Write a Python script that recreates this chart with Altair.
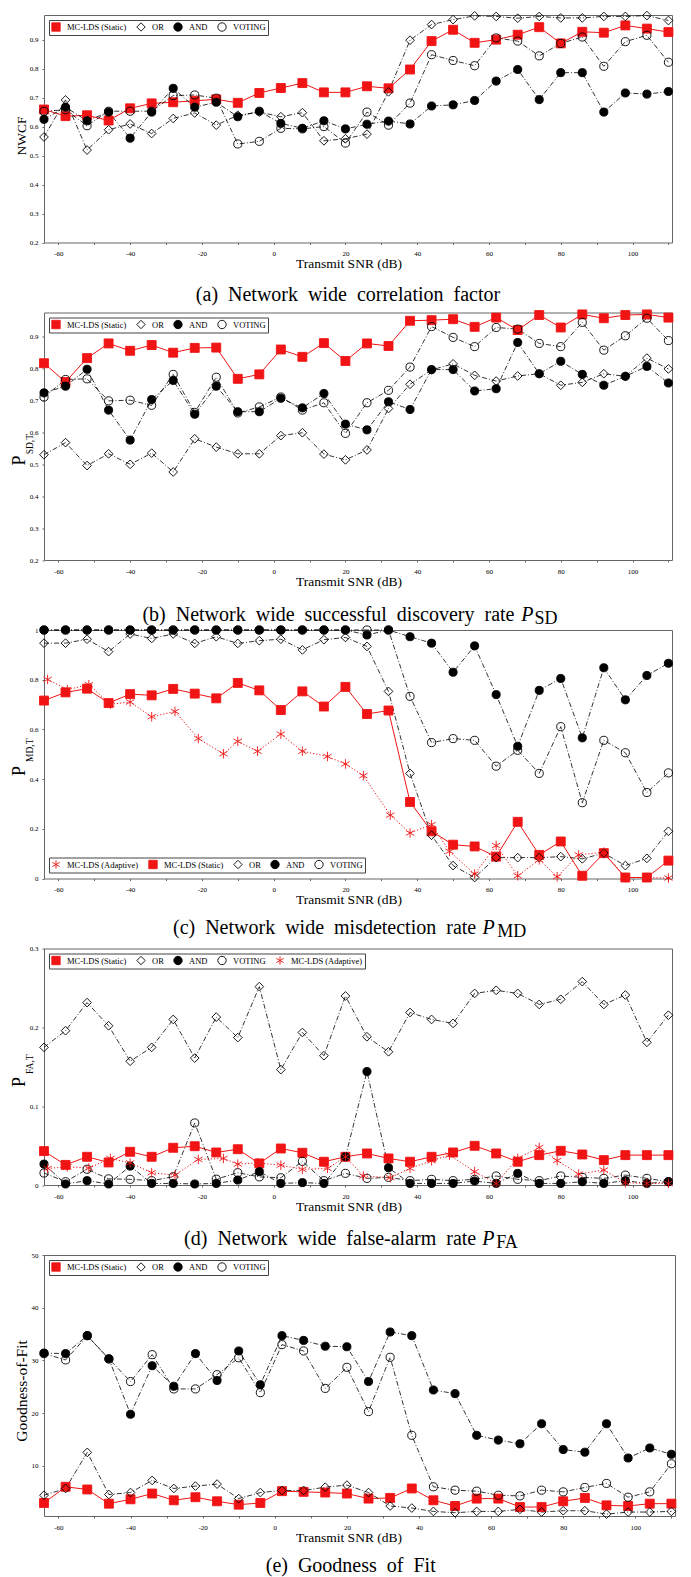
import altair as alt
import pandas as pd

FONT = "Liberation Serif"
RED = "#f01414"
S, O, A, V, AD = "MC-LDS (Static)", "OR", "AND", "VOTING", "MC-LDS (Adaptive)"

# ---------------- data ----------------
snr = [-64, -58, -52, -46, -40, -34, -28, -22, -16, -10, -4, 2, 8, 14, 20,
       26, 32, 38, 44, 50, 56, 62, 68, 74, 80, 86, 92, 98, 104, 110]
snr_adaptive = [-63, -57.5, -51.5, -45.5, -40, -34, -27.5, -21, -14, -10, -4.5, 2, 8, 15, 20,
                25, 32.5, 38, 44, 49, 56, 62, 68, 74, 79, 85, 92, 98, 104, 110]

x_ticks = [-60, -50, -40, -30, -20, -10, 0, 10, 20, 30, 40, 50, 60, 70, 80, 90, 100, 110]

# (a) NWCF
nwcf_static = [0.659, 0.636, 0.639, 0.621, 0.663, 0.680, 0.684, 0.689, 0.694, 0.682, 0.716, 0.733, 0.750, 0.718, 0.718,
               0.739, 0.732, 0.797, 0.895, 0.934, 0.889, 0.900, 0.917, 0.943, 0.887, 0.927, 0.924, 0.949, 0.938, 0.926]
nwcf_or = [0.564, 0.692, 0.519, 0.589, 0.609, 0.576, 0.628, 0.647, 0.605, 0.639, 0.650, 0.634, 0.648, 0.551, 0.558,
           0.574, 0.720, 0.898, 0.952, 0.969, 0.982, 0.980, 0.974, 0.980, 0.975, 0.975, 0.980, 0.980, 0.983, 0.966]
nwcf_and = [0.625, 0.667, 0.620, 0.650, 0.560, 0.650, 0.732, 0.667, 0.684, 0.634, 0.653, 0.611, 0.594, 0.620, 0.592,
            0.608, 0.619, 0.609, 0.671, 0.675, 0.690, 0.757, 0.797, 0.693, 0.786, 0.786, 0.650, 0.716, 0.712, 0.721]
nwcf_voting = [0.653, 0.658, 0.603, 0.653, 0.653, 0.653, 0.707, 0.709, 0.698, 0.540, 0.549, 0.594, 0.592, 0.600, 0.543,
               0.650, 0.605, 0.681, 0.848, 0.828, 0.810, 0.906, 0.895, 0.844, 0.887, 0.909, 0.808, 0.893, 0.915, 0.822]

# (b) P_SD
psd_static = [0.817, 0.758, 0.833, 0.879, 0.856, 0.874, 0.850, 0.865, 0.866, 0.768, 0.782, 0.860, 0.837, 0.880, 0.824,
              0.879, 0.871, 0.950, 0.952, 0.955, 0.931, 0.960, 0.921, 0.968, 0.929, 0.970, 0.958, 0.968, 0.970, 0.960]
psd_or = [0.530, 0.568, 0.496, 0.533, 0.500, 0.535, 0.476, 0.580, 0.554, 0.533, 0.533, 0.590, 0.599, 0.532, 0.514,
          0.545, 0.675, 0.751, 0.796, 0.815, 0.779, 0.761, 0.777, 0.784, 0.748, 0.757, 0.784, 0.776, 0.833, 0.799]
psd_and = [0.724, 0.745, 0.798, 0.670, 0.576, 0.703, 0.763, 0.657, 0.745, 0.665, 0.665, 0.707, 0.677, 0.722, 0.626,
           0.608, 0.696, 0.672, 0.797, 0.797, 0.730, 0.737, 0.882, 0.784, 0.823, 0.782, 0.748, 0.776, 0.807, 0.755]
psd_voting = [0.711, 0.766, 0.768, 0.699, 0.701, 0.685, 0.782, 0.663, 0.773, 0.661, 0.680, 0.711, 0.670, 0.693, 0.597,
              0.693, 0.732, 0.805, 0.932, 0.898, 0.869, 0.929, 0.924, 0.879, 0.869, 0.945, 0.858, 0.903, 0.958, 0.888]

# (c) P_MD
pmd_static = [0.716, 0.749, 0.764, 0.706, 0.742, 0.737, 0.763, 0.744, 0.725, 0.787, 0.757, 0.678, 0.753, 0.692, 0.771,
              0.662, 0.676, 0.308, 0.190, 0.136, 0.129, 0.088, 0.228, 0.095, 0.149, 0.011, 0.102, 0.004, 0.004, 0.072]
pmd_or = [0.947, 0.947, 0.963, 0.913, 0.984, 0.966, 0.984, 0.946, 0.973, 0.946, 0.957, 0.963, 0.920, 0.961, 0.970,
          0.934, 0.753, 0.423, 0.174, 0.052, 0.004, 0.084, 0.084, 0.084, 0.088, 0.079, 0.102, 0.052, 0.081, 0.190]
pmd_and = [1.0, 1.0, 1.0, 1.0, 1.0, 1.0, 1.0, 1.0, 1.0, 1.0, 1.0, 1.0, 1.0, 1.0, 1.0,
           0.980, 1.0, 0.973, 0.947, 0.830, 0.936, 0.740, 0.532, 0.757, 0.805, 0.566, 0.848, 0.719, 0.817, 0.866]
pmd_voting = [1.0, 1.0, 1.0, 1.0, 1.0, 1.0, 1.0, 1.0, 1.0, 1.0, 1.0, 1.0, 1.0, 1.0, 1.0,
              1.0, 1.0, 0.733, 0.547, 0.563, 0.556, 0.452, 0.516, 0.423, 0.611, 0.305, 0.556, 0.506, 0.346, 0.425]
pmd_adaptive = [0.801, 0.760, 0.780, 0.701, 0.710, 0.651, 0.672, 0.563, 0.502, 0.552, 0.512, 0.581, 0.512, 0.491, 0.461,
                0.414, 0.255, 0.183, 0.217, 0.109, 0.018, 0.133, 0.011, 0.075, 0.007, 0.095, 0.106, 0.004, 0.004, 0.002]

# (d) P_FA
pfa_static = [0.043, 0.0255, 0.0358, 0.0286, 0.0421, 0.0358, 0.0472, 0.0492, 0.0413, 0.0454, 0.0274, 0.0463, 0.0409, 0.0295, 0.0358,
              0.040, 0.0337, 0.0295, 0.0358, 0.0413, 0.0497, 0.040, 0.0295, 0.0379, 0.0434, 0.0387, 0.0316, 0.0379, 0.0379, 0.0379]
pfa_or = [0.1746, 0.1957, 0.2314, 0.202, 0.157, 0.1746, 0.210, 0.161, 0.213, 0.187, 0.2516, 0.1464, 0.1935, 0.164, 0.2398,
          0.188, 0.169, 0.2188, 0.210, 0.205, 0.243, 0.247, 0.243, 0.229, 0.2356, 0.258, 0.229, 0.241, 0.181, 0.2154]
pfa_and = [0.0265, 0.0013, 0.0055, 0.0013, 0.024, 0.002, 0.002, 0.0013, 0.002, 0.0063, 0.0169, 0.002, 0.003, 0.002, 0.0358,
           0.1439, 0.0219, 0.002, 0.002, 0.002, 0.005, 0.002, 0.0147, 0.002, 0.002, 0.0042, 0.002, 0.0055, 0.002, 0.0042]
pfa_voting = [0.0152, 0.0042, 0.020, 0.0078, 0.0072, 0.0055, 0.0105, 0.0787, 0.0074, 0.0156, 0.0103, 0.0092, 0.030, 0.0055, 0.0148,
              0.0084, 0.0097, 0.0055, 0.0072, 0.0055, 0.0072, 0.0114, 0.0072, 0.0055, 0.0114, 0.0097, 0.0084, 0.0126, 0.0084, 0.0042]
pfa_adaptive = [0.021, 0.023, 0.0216, 0.0337, 0.028, 0.0156, 0.0126, 0.0324, 0.0337, 0.0265, 0.028, 0.0252, 0.0198, 0.0211, 0.0358,
                0.0114, 0.0093, 0.0211, 0.0307, 0.0379, 0.0169, 0.002, 0.0337, 0.0476, 0.0310, 0.0139, 0.019, 0.003, 0.002, 0.002]

# (e) Goodness of fit
gof_static = [2.97, 6.04, 5.53, 2.84, 3.67, 4.76, 3.48, 4.06, 3.29, 2.65, 2.97, 5.21, 5.08, 4.95, 4.76,
              3.80, 3.93, 5.72, 3.48, 2.40, 3.80, 3.80, 2.20, 2.20, 3.29, 3.93, 2.52, 2.40, 2.84, 2.84]
gof_or = [4.44, 5.72, 12.56, 4.57, 4.95, 7.25, 5.72, 6.17, 6.55, 3.80, 4.95, 5.34, 5.34, 5.97, 6.36,
          4.95, 2.40, 2.01, 1.37, 1.12, 1.37, 1.37, 1.76, 1.25, 1.50, 1.50, 0.86, 1.25, 1.25, 1.37]
gof_and = [31.4, 31.3, 34.7, 30.3, 19.8, 29.0, 25.1, 31.3, 26.2, 31.8, 25.4, 34.7, 33.8, 32.7, 32.6,
           26.0, 35.4, 34.7, 24.4, 23.7, 15.8, 14.9, 14.2, 18.0, 13.1, 12.6, 18.0, 11.5, 13.4, 12.2]
gof_voting = [31.3, 30.1, 34.7, 30.3, 26.0, 31.1, 24.6, 24.6, 27.3, 30.5, 23.9, 33.0, 31.8, 24.7, 28.7,
              20.3, 30.6, 15.8, 6.04, 5.40, 5.21, 4.44, 4.31, 5.40, 5.08, 5.91, 6.68, 4.06, 5.08, 10.4]

# ---------------- styles ----------------
ASTERISK = "M0,-1L0,1M-0.87,-0.5L0.87,0.5M-0.87,0.5L0.87,-0.5"
SHAPE = {S: "square", O: "diamond", A: "circle", V: "circle", AD: ASTERISK}
FILL = {S: RED, O: "transparent", A: "black", V: "transparent", AD: "transparent"}
STROKE = {S: RED, O: "black", A: "black", V: "black", AD: RED}
SIZE = {S: 80, O: 76, A: 66, V: 66, AD: 90}
DRAW_ORDER = [S, O, A, V, AD]


def txt(t, x, y, size, angle=0, align="center", style="normal"):
    return alt.Chart(pd.DataFrame({"t": [t]})).mark_text(
        font=FONT, fontSize=size, angle=angle, align=align, baseline="alphabetic",
        fontStyle=style, color="black"
    ).encode(text="t:N", x=alt.value(x), y=alt.value(y))


def panel(series, legend_order, legend_pos, width, height, ydomain, yticks, yfmt, texts):
    rows = []
    for name in DRAW_ORDER:
        if name in series:
            xs, ys = series[name]
            for xv, yv in zip(xs, ys):
                rows.append({"snr": xv, "val": yv, "series": name, "sz": SIZE[name]})
    df = pd.DataFrame(rows)

    xenc = alt.X("snr:Q", scale=alt.Scale(domain=[-64, 111], nice=False, zero=False),
                 axis=alt.Axis(values=x_ticks,
                               labelExpr="datum.value % 20 === 0 ? '' + datum.value : ''",
                               title=None, grid=False, domain=False, tickSize=2, tickColor="#666",
                               labelFont=FONT, labelFontSize=7, labelColor="black", labelPadding=5))
    yenc = alt.Y("val:Q", scale=alt.Scale(domain=ydomain, nice=False, zero=False),
                 axis=alt.Axis(values=yticks, format=yfmt, title=None, grid=False, domain=False,
                               tickSize=2, tickColor="#666", labelFont=FONT, labelFontSize=7,
                               labelColor="black", labelPadding=4))
    base = alt.Chart(df).encode(x=xenc, y=yenc)

    layers = [
        base.transform_filter(alt.datum.series == S).mark_line(color=RED, strokeWidth=1),
        base.transform_filter(alt.FieldOneOfPredicate(field="series", oneOf=[O, A, V]))
            .mark_line(color="black", strokeWidth=0.8, strokeDash=[5, 2, 1, 2])
            .encode(detail="series:N"),
    ]
    if AD in series:
        layers.append(base.transform_filter(alt.datum.series == AD)
                      .mark_line(color=RED, strokeWidth=1, strokeDash=[1.2, 2]))

    common = dict(title=None, direction="horizontal",
                  padding=2, strokeColor="#444", fillColor="white",
                  labelFont=FONT, labelFontSize=8.5, labelColor="black",
                  symbolSize=70, symbolStrokeWidth=0.9, columnPadding=8, labelOffset=6)
    if legend_pos == "top-left":
        leg = alt.Legend(orient="top-left", offset=5, **common)
    else:
        leg = alt.Legend(orient="none", legendX=5, legendY=legend_pos, **common)
    pts = base.mark_point(filled=True, opacity=1, strokeWidth=0.9).encode(
        shape=alt.Shape("series:N", scale=alt.Scale(domain=legend_order, range=[SHAPE[k] for k in legend_order]), legend=leg),
        fill=alt.Fill("series:N", scale=alt.Scale(domain=legend_order, range=[FILL[k] for k in legend_order]), legend=leg),
        stroke=alt.Stroke("series:N", scale=alt.Scale(domain=legend_order, range=[STROKE[k] for k in legend_order]), legend=leg),
        size=alt.Size("sz:Q", scale=None),
    )
    layers.append(pts)
    layers.append(txt("Transmit SNR (dB)", 305, height + 25.5, 13.5))
    for t in texts:
        layers.append(txt(*t))
    return alt.layer(*layers).properties(width=width, height=height)


W = 628
SP = "\u2002"

Ha, Hb, Hc, Hd, He = 227.5, 247.5, 248.5, 236.5, 261

pa = panel({S: (snr, nwcf_static), O: (snr, nwcf_or), A: (snr, nwcf_and), V: (snr, nwcf_voting)},
           [S, O, A, V], "top-left", W, Ha, [0.2, 0.985],
           [0.2, 0.3, 0.4, 0.5, 0.6, 0.7, 0.8, 0.9], ".1f",
           [("NWCF", -18.5, 121, 13.5, 270),
            (SP.join(["(a)", "Network", "wide", "correlation", "factor"]), 304, Ha + 58, 20)])

pb = panel({S: (snr, psd_static), O: (snr, psd_or), A: (snr, psd_and), V: (snr, psd_voting)},
           [S, O, A, V], "top-left", W, Hb, [0.2, 0.976],
           [0.2, 0.3, 0.4, 0.5, 0.6, 0.7, 0.8, 0.9], ".1f",
           [("P", -19.5, 148, 18, 270),
            ("SD,T", -11.5, 131.7, 9.5, 270),
            (SP.join(["(b)", "Network", "wide", "successful", "discovery", "rate"]), 470.5, Hb + 61.3, 20, 0, "right"),
            ("P", 477.2, Hb + 61.3, 20, 0, "left", "italic"),
            ("SD", 490.5, Hb + 64.3, 18, 0, "left")])

pc = panel({S: (snr, pmd_static), O: (snr, pmd_or), A: (snr, pmd_and), V: (snr, pmd_voting),
            AD: (snr_adaptive, pmd_adaptive)},
           [AD, S, O, A, V], Hc - 21, W, Hc, [0, 1.0],
           [0, 0.2, 0.4, 0.6, 0.8, 1.0], "~g",
           [("P", -19.5, 141, 18, 270),
            ("MD,T", -11.5, 120.3, 9.5, 270),
            (SP.join(["(c)", "Network", "wide", "misdetection", "rate"]), 432.2, Hc + 55.3, 20, 0, "right"),
            ("P", 438.5, Hc + 55.3, 20, 0, "left", "italic"),
            ("MD", 453.2, Hc + 58.3, 18, 0, "left")])

pd_ = panel({S: (snr, pfa_static), O: (snr, pfa_or), A: (snr, pfa_and), V: (snr, pfa_voting),
             AD: (snr_adaptive, pfa_adaptive)},
            [S, O, A, V, AD], "top-left", W, Hd, [0, 0.3],
            [0, 0.1, 0.2, 0.3], "~g",
            [("P", -19.5, 133.5, 18, 270),
             ("FA,T", -11.5, 115.7, 9.5, 270),
             (SP.join(["(d)", "Network", "wide", "false-alarm", "rate"]), 432.2, Hd + 59.7, 20, 0, "right"),
             ("P", 438.2, Hd + 59.7, 20, 0, "left", "italic"),
             ("FA", 452.2, Hd + 62.7, 18, 0, "left")])

pe = panel({S: (snr, gof_static), O: (snr, gof_or), A: (snr, gof_and), V: (snr, gof_voting)},
           [S, O, A, V], "top-left", 631, He, [0.5, 50],
           [10, 20, 30, 40, 50], "d",
           [("Goodness-of-Fit", -17.5, 136, 15.5, 270),
            (SP.join(["(e)", "Goodness", "of", "Fit"]), 306.7, He + 55.5, 20)])

chart = alt.vconcat(pa, pb, pc, pd_, pe, spacing=69.5, bounds="flush").resolve_scale(
    shape="independent", fill="independent", stroke="independent"
).resolve_legend(
    shape="independent", fill="independent", stroke="independent"
).configure_view(stroke="#666", strokeWidth=1).properties(
    padding={"left": 2, "top": 0, "right": 2, "bottom": 2}, background="white"
)

chart.save("out.html", embed_options={"renderer": "svg", "actions": False})
